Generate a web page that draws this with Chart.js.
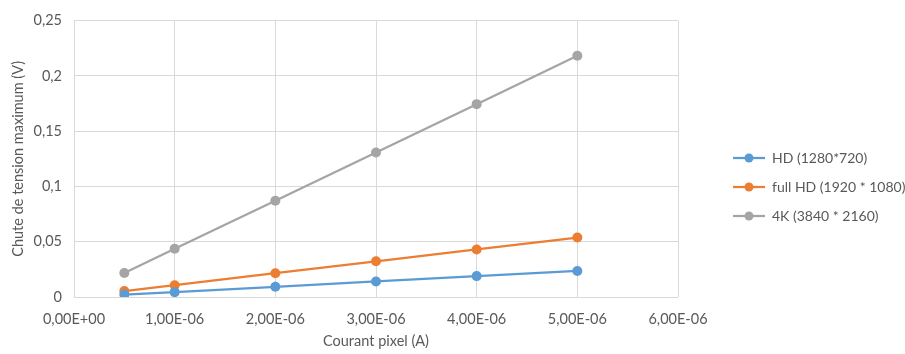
<!DOCTYPE html>
<html>
<head>
<meta charset="utf-8">
<script src="https://cdn.jsdelivr.net/npm/chart.js@4"></script>
<style>
  html, body { margin: 0; padding: 0; background: #fff; }
  #wrap { width: 905px; height: 354px; }
</style>
</head>
<body>
<div id="wrap"><canvas id="dropChart"></canvas></div>
<script>
// courant pixel (A)
const courant = [0.5e-6, 1e-6, 2e-6, 3e-6, 4e-6, 5e-6];
// chute de tension maximum (V)
const hd = [0.0022, 0.0044, 0.0092, 0.0141, 0.0189, 0.0236];
const fullHd = [0.0054, 0.0107, 0.0215, 0.0323, 0.043, 0.0538];
const uhd4k = [0.0217, 0.0436, 0.0871, 0.1307, 0.1745, 0.2183];
const seriesNames = ['HD (1280*720)', 'full HD (1920 * 1080)', '4K (3840 * 2160)'];
const seriesColors = ['#5B9BD5', '#ED7D31', '#A5A5A5'];

const font = "Lato, 'Open Sans', sans-serif";
const fs = 14.5;
const txt = '#595959';

function pts(ys) {
  return courant.map((x, i) => ({x: x, y: ys[i]}));
}

// legend marker: short line with a dot in the middle
function marker(color) {
  const c = document.createElement('canvas');
  c.width = 32; c.height = 12;
  const g = c.getContext('2d');
  g.strokeStyle = color; g.lineWidth = 2.25;
  g.beginPath(); g.moveTo(0, 6); g.lineTo(32, 6); g.stroke();
  g.fillStyle = color;
  g.beginPath(); g.arc(16, 6, 4.5, 0, Math.PI * 2); g.fill();
  return c;
}

function sci(v) {
  if (Math.abs(v) < 1e-12) return '0,00E+00';
  let [m, e] = v.toExponential(2).split('e');
  e = parseInt(e, 10);
  const es = (e < 0 ? '-' : '+') + String(Math.abs(e)).padStart(2, '0');
  return m.replace('.', ',') + 'E' + es;
}

// push the legend away from the plot, Excel style
const legendShift = {
  id: 'legendShift',
  afterLayout(chart) {
    const l = chart.legend;
    l.left += 40; l.right += 40;
    l.top += 6; l.bottom += 6;
  }
};

const ctx = document.getElementById('dropChart');
new Chart(ctx, {
  type: 'line',
  data: {
    datasets: [hd, fullHd, uhd4k].map((d, i) => ({
      label: seriesNames[i],
      data: pts(d),
      borderColor: seriesColors[i],
      backgroundColor: seriesColors[i],
      borderWidth: 2.25,
      pointRadius: 5,
      pointBorderWidth: 0,
      pointStyle: 'circle',
      tension: 0
    }))
  },
  plugins: [legendShift],
  options: {
    maintainAspectRatio: false,
    responsive: true,
    animation: false,
    layout: { padding: { left: 10, right: 0, top: 12, bottom: 4 } },
    plugins: {
      tooltip: { enabled: false },
      legend: {
        position: 'right',
        labels: {
          color: txt,
          font: { family: font, size: 14 },
          usePointStyle: true,
          pointStyleWidth: 32,
          padding: 15,
          generateLabels: (chart) => chart.data.datasets.map((ds, i) => ({
            text: ds.label,
            pointStyle: marker(seriesColors[i]),
            fillStyle: seriesColors[i],
            strokeStyle: seriesColors[i],
            fontColor: txt,
            lineWidth: 0,
            datasetIndex: i
          }))
        }
      }
    },
    scales: {
      x: {
        type: 'linear',
        min: 0,
        max: 6e-6,
        ticks: {
          stepSize: 1e-6,
          color: txt,
          font: { family: font, size: fs },
          padding: 14,
          maxRotation: 0,
          callback: (v) => sci(v)
        },
        grid: { color: '#d9d9d9', drawTicks: false },
        border: { display: false },
        title: { display: true, text: 'Courant pixel (A)', color: txt, font: { family: font, size: fs }, padding: { top: 0, bottom: 0 } },
        // fixed axis height + room between plot and legend, like the original
        afterFit: (s) => { s.height = 53; s.paddingRight = 227; }
      },
      y: {
        min: 0,
        max: 0.25,
        ticks: {
          stepSize: 0.05,
          color: txt,
          font: { family: font, size: fs },
          padding: 12,
          callback: (v) => String(parseFloat(v.toFixed(4))).replace('.', ',')
        },
        grid: { color: '#d9d9d9', drawTicks: false },
        border: { display: false },
        title: { display: true, text: 'Chute de tension maximum (V)', color: txt, font: { family: font, size: fs }, padding: { top: 0, bottom: 0 } },
        afterFit: (s) => { s.width = 64; }
      }
    }
  }
});
</script>
</body>
</html>
